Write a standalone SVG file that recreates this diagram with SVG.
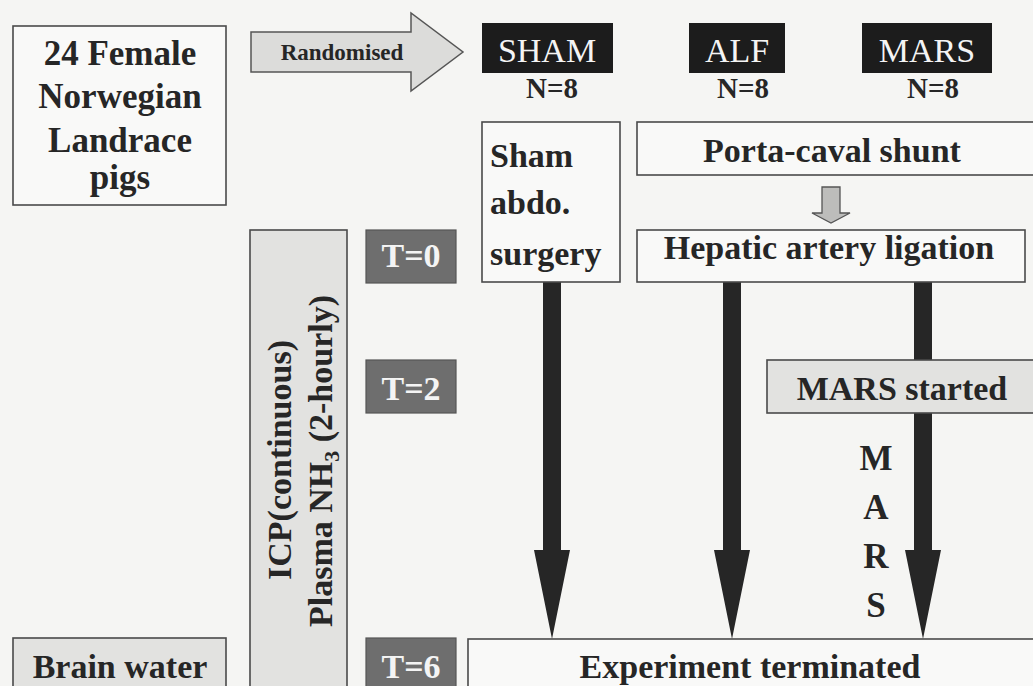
<svg xmlns="http://www.w3.org/2000/svg" width="1033" height="686" viewBox="0 0 1033 686">
<style>
.t{font-family:"Liberation Serif","Times New Roman",serif;font-weight:bold;fill:#262626;text-anchor:middle}
.w{font-family:"Liberation Serif","Times New Roman",serif;fill:#f4f4f4;text-anchor:middle}
.box{fill:#f9f9f8;stroke:#4a4a4a;stroke-width:1.6}
.gbox{fill:#e2e2e0;stroke:#4a4a4a;stroke-width:1.6}
.blk{fill:#1c1c1c}
.tbox{fill:#6e6e6e;stroke:#555;stroke-width:1.2}
.thick{fill:#262626}
</style>
<rect width="1033" height="686" fill="#f5f5f3"/>

<g id="connectors">
  <polygon points="251,32 411,32 411,13 463,52 411,91 411,72 251,72" fill="#dcdcda" stroke="#555" stroke-width="1.5"/>
  <polygon points="822,187 840,187 840,213 850,213 831,223 812,213 822,213" fill="#bdbdbb" stroke="#555" stroke-width="1.3"/>
  <polygon class="thick" points="543,282 561,282 561,550 570,550 552,639 534,550 543,550"/>
  <polygon class="thick" points="723,282 741,282 741,550 750,550 732,639 714,550 723,550"/>
  <polygon class="thick" points="914,282 932,282 932,550 941,550 923,639 905,550 914,550"/>
</g>

<g id="randomised-label"><text class="t" x="342" y="60" font-size="23">Randomised</text></g>

<g id="pigs">
  <rect class="box" x="13" y="26" width="213" height="179"/>
  <text class="t" font-size="35" x="120" y="65">24 Female</text>
  <text class="t" font-size="35" x="120" y="108">Norwegian</text>
  <text class="t" font-size="35" x="120" y="152">Landrace</text>
  <text class="t" font-size="35" x="120" y="189">pigs</text>
</g>

<g id="sham-group">
  <rect class="blk" x="482" y="23" width="131" height="50"/>
  <text class="w" font-size="34" x="547" y="62">SHAM</text>
  <text class="t" font-size="29" x="552" y="98">N=8</text>
</g>
<g id="alf-group">
  <rect class="blk" x="689" y="23" width="96" height="50"/>
  <text class="w" font-size="34" x="737" y="62">ALF</text>
  <text class="t" font-size="29" x="743" y="98">N=8</text>
</g>
<g id="mars-group">
  <rect class="blk" x="862" y="23" width="130" height="50"/>
  <text class="w" font-size="34" x="927" y="62">MARS</text>
  <text class="t" font-size="29" x="933" y="98">N=8</text>
</g>

<g id="sham-surgery">
  <rect class="box" x="482" y="122" width="138" height="160"/>
  <text class="t" font-size="34" x="490" y="167" style="text-anchor:start">Sham</text>
  <text class="t" font-size="34" x="490" y="214" style="text-anchor:start">abdo.</text>
  <text class="t" font-size="34" x="490" y="265" style="text-anchor:start">surgery</text>
</g>

<g id="porta-caval">
  <rect class="box" x="637" y="122" width="410" height="53"/>
  <text class="t" font-size="34" x="832" y="162">Porta-caval shunt</text>
</g>

<g id="hepatic">
  <rect class="box" x="637" y="230" width="388" height="52"/>
  <text class="t" font-size="34" x="829" y="259">Hepatic artery ligation</text>
</g>

<g id="mars-started">
  <rect class="gbox" x="767" y="360" width="280" height="53"/>
  <text class="t" font-size="34" x="902" y="400">MARS started</text>
</g>

<g id="mars-vertical">
  <text class="t" font-size="35" x="876" y="470">M</text>
  <text class="t" font-size="35" x="876" y="519">A</text>
  <text class="t" font-size="35" x="876" y="568">R</text>
  <text class="t" font-size="35" x="876" y="617">S</text>
</g>

<g id="icp">
  <rect class="gbox" x="250" y="230" width="97" height="470"/>
  <text class="t" font-size="34" transform="translate(291,460) rotate(-90)">ICP(continuous)</text>
  <text class="t" font-size="34" transform="translate(332,461) rotate(-90)">Plasma NH<tspan font-size="22" dy="7">3</tspan><tspan dy="-7"> (2-hourly)</tspan></text>
</g>

<g id="t0"><rect class="tbox" x="366" y="230" width="90" height="53"/><text class="w" font-weight="bold" font-size="34" x="411" y="267">T=0</text></g>
<g id="t2"><rect class="tbox" x="366" y="360" width="90" height="53"/><text class="w" font-weight="bold" font-size="34" x="411" y="400">T=2</text></g>
<g id="t6"><rect class="tbox" x="366" y="638" width="90" height="60"/><text class="w" font-weight="bold" font-size="34" x="411" y="678">T=6</text></g>

<g id="experiment-terminated">
  <rect class="box" x="468" y="639" width="600" height="60"/>
  <text class="t" font-size="34" x="750" y="678">Experiment terminated</text>
</g>

<g id="brain-water">
  <rect class="gbox" x="13" y="638" width="213" height="60"/>
  <text class="t" font-size="34" x="120" y="678">Brain water</text>
</g>
</svg>
